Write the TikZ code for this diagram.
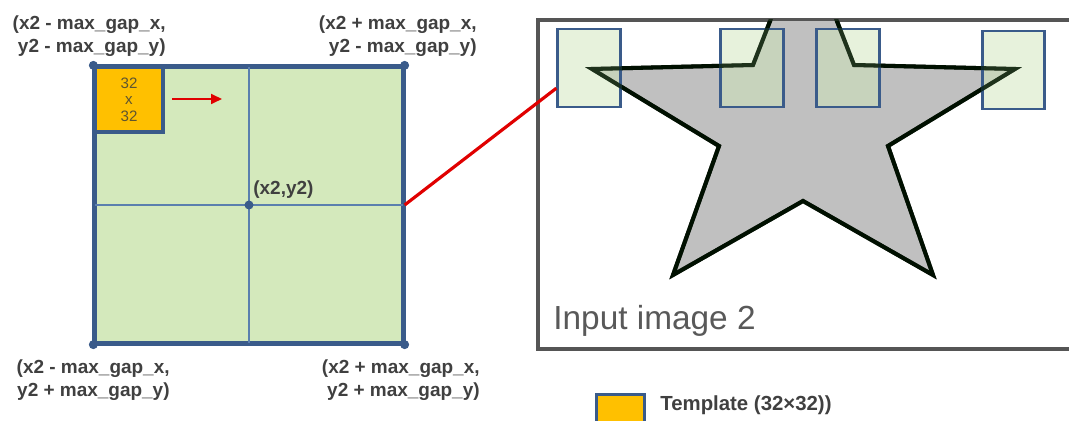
\documentclass[tikz,border=0pt]{standalone}
\usepackage{fontspec}
\setmainfont{Liberation Sans}
\usepackage{xcolor}
\usepackage{tikz}
\usetikzlibrary{arrows.meta, positioning, calc}
\definecolor{regionbg}{HTML}{D4E9BC}
\definecolor{regionframe}{HTML}{3A5B8A}
\definecolor{gridline}{HTML}{5A7FAE}
\definecolor{tmplbg}{HTML}{FFC000}
\definecolor{tmpltext}{HTML}{5E5530}
\definecolor{winbg}{HTML}{CFE6BA}
\definecolor{starbg}{HTML}{C0C0C0}
\definecolor{linkred}{HTML}{E00000}
\definecolor{lbltext}{HTML}{404040}
\definecolor{imgframe}{HTML}{555555}
\definecolor{imgtext}{HTML}{595959}

\begin{document}
\begin{tikzpicture}[
  x=0.02cm, y=-0.02cm,
  region/.style={rectangle, draw=regionframe, fill=regionbg, line width=1.9pt,
                 minimum width=6.16cm, minimum height=5.52cm, inner sep=0pt},
  tmpl/.style={rectangle, draw=regionframe, fill=tmplbg, line width=1.9pt,
               minimum width=1.36cm, minimum height=1.30cm, inner sep=0pt,
               align=center, text=tmpltext,
               font=\fontsize{8.6}{9.4}\selectfont},
  dot/.style={circle, fill=regionframe, minimum size=0.18cm, inner sep=0pt},
  cornerlbl/.style={align=right, text=lbltext, inner sep=0pt,
                    font=\fontsize{10.8}{13}\selectfont\bfseries},
  inimg/.style={rectangle, draw=imgframe, line width=1.5pt,
                minimum width=10.72cm, minimum height=6.54cm, inner sep=0pt},
  win/.style={rectangle, draw=regionframe, line width=1.6pt, fill=winbg,
              fill opacity=0.5, minimum width=1.25cm, minimum height=1.56cm,
              inner sep=0pt},
  starpath/.style={line width=2.3pt, line join=miter},
  link/.style={linkred, line width=1.8pt},
  move/.style={-{Triangle[length=0.22cm, width=0.2cm]}, linkred, line width=1pt},
]
\useasboundingbox (0,0) rectangle (1069,421);

%% ── Search region around (x2,y2) ─────────────────────────────────────────────
\node[region] (reg) at (249,205) {};
\draw[gridline, line width=0.85pt] (reg.north) -- (reg.south);
\draw[gridline, line width=0.85pt] (reg.west) -- (reg.east);
\draw[regionframe, line width=1.9pt] (reg.north west) rectangle (reg.south east);

\node[tmpl, anchor=north west] (tpl) at (reg.north west) {32\\x\\32};
\coordinate (mvS) at (172,99);
\coordinate (mvE) at (222,99);
\draw[move] (mvS) -- (mvE);

\node[dot] (cNW) at (reg.north west) {};
\node[dot] (cNE) at (reg.north east) {};
\node[dot] (cSW) at (reg.south west) {};
\node[dot] (cSE) at (reg.south east) {};
\node[dot] (ctr) at (reg.center) {};

%% ── Corner labels ────────────────────────────────────────────────────────────
\node[cornerlbl, anchor=east] (lNW) at (166,36) {(x2 - max\_gap\_x,\\y2 - max\_gap\_y)};
\node[cornerlbl, anchor=east] (lNE) at (477,36) {(x2 + max\_gap\_x,\\y2 - max\_gap\_y)};
\node[cornerlbl, anchor=east] (lSW) at (170,380) {(x2 - max\_gap\_x,\\y2 + max\_gap\_y)};
\node[cornerlbl, anchor=east] (lSE) at (480,380) {(x2 + max\_gap\_x,\\y2 + max\_gap\_y)};
\node[cornerlbl, anchor=west] (lC) at (253,190) {(x2,y2)};

%% ── Input image 2 with the star ──────────────────────────────────────────────
\node[inimg] (img) at (807,184.5) {};
\def\starpts{(592,69) -- (753,65) -- (803.5,-65) -- (854,65) -- (1015,69)
    -- (888,146) -- (933,275) -- (803,201) -- (673,275) -- (719,146) -- cycle}
\begin{scope}
  \clip (img.north west) rectangle (img.south east);
  \filldraw[starpath, fill=starbg, draw=black] \starpts;
\end{scope}
\draw[imgframe, line width=1.5pt] (img.north west) rectangle (img.south east);
\node[anchor=base west, text=imgtext, inner sep=0pt,
      font=\fontsize{19}{22}\selectfont] (imgname) at (553,330) {Input image 2};

%% ── Template windows ─────────────────────────────────────────────────────────
\node[win] (w1) at (589,68) {};
\node[win] (w2) at (752,68) {};
\node[win] (w3) at (848,68) {};
\node[win] (w4) at (1013.5,70) {};
% star edge shows through the windows
\begin{scope}
  \clip (img.north west) rectangle (img.south east);
  \draw[starpath, black!85!green!60!black, draw opacity=0.7] \starpts;
\end{scope}

%% ── Link ─────────────────────────────────────────────────────────────────────
\draw[link] (reg.east) -- ($(w1.north west)!0.75!(w1.south west)$);

%% ── Legend ───────────────────────────────────────────────────────────────────
\node[rectangle, draw=regionframe, fill=tmplbg, line width=1.5pt,
      minimum width=0.96cm, minimum height=0.8cm, inner sep=0pt,
      anchor=north west] (legT) at (595,393) {};
\node[cornerlbl, anchor=west, font=\fontsize{11.6}{13}\selectfont\bfseries]
  (legTxt) at (660,405) {Template (32×32))};

\end{tikzpicture}
\end{document}
